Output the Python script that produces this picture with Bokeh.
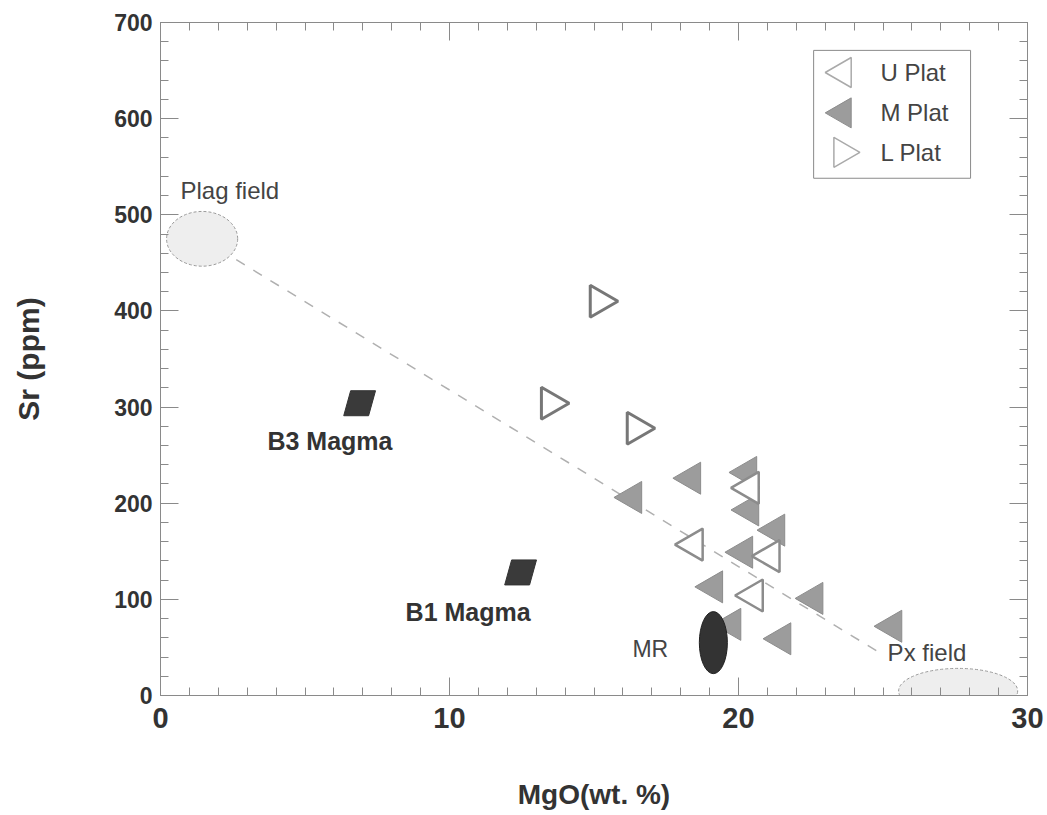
import numpy as np
from bokeh.plotting import figure
from bokeh.models import LinearAxis, SingleIntervalTicker, Range1d, ColumnDataSource
from bokeh.core.properties import value
from bokeh.embed import file_html
from bokeh.resources import INLINE

# ---- data ----
u_mgo = [18.44, 21.10, 20.52, 20.38]
u_sr = [157, 145, 104, 216]
m_mgo = [16.33, 18.37, 20.31, 20.38, 21.28, 20.17, 19.13, 22.60, 19.76, 21.49, 25.33]
m_sr = [206, 226, 232, 193, 172, 149, 113, 101, 74, 59, 72]
l_mgo = [15.19, 16.47, 13.50]
l_sr = [410, 278, 304]

magma_names = ["B3 Magma", "B1 Magma"]
magma_mgo = [6.89, 12.46]
magma_sr = [304, 128]
magma_label_mgo = [3.70, 8.48]
magma_label_sr = [265, 87]

field_names = ["Plag field", "Px field"]
field_mgo = [1.44, 27.6]
field_sr = [475, 4.7]
field_w = [2.46, 4.12]
field_h = [57, 47]
field_label_mgo = [0.69, 25.16]
field_label_sr = [525, 45]

mr_name = ["MR"]
mr_mgo = [19.13]
mr_sr = [55]
mr_w = [0.97]
mr_h = [64.5]
mr_label_mgo = [16.33]
mr_label_sr = [48]

tie_mgo = [1.44, 24.8]
tie_sr = [475, 46]

x_ticks_major = 10
y_ticks_major = 100

# legend layout (in data units of the plot)
legend_labels = ["U Plat", "M Plat", "L Plat"]
legend_box = dict(left=22.6, right=28.03, bottom=538, top=671)
legend_icon_x = 23.6
legend_text_x = 24.91
legend_row_y = [648, 606, 565]

FONT = "Liberation Sans"
GRAY = "#8a8a8a"
TXT = "#333333"

p = figure(width=1047, height=815, x_range=Range1d(0, 30), y_range=Range1d(0, 700),
           output_backend="svg", toolbar_location=None,
           min_border_left=160, min_border_right=20, min_border_top=22,
           min_border_bottom=120)
p.grid.visible = False
p.outline_line_color = GRAY
p.background_fill_color = "white"
p.border_fill_color = "white"

xb = p.below[0]
yl = p.left[0]
xb.ticker = SingleIntervalTicker(interval=x_ticks_major, num_minor_ticks=10)
yl.ticker = SingleIntervalTicker(interval=y_ticks_major, num_minor_ticks=5)


def style_ax(ax, labels=True):
    ax.axis_line_color = GRAY
    ax.major_tick_line_color = GRAY
    ax.minor_tick_line_color = GRAY
    ax.major_tick_in = 18
    ax.major_tick_out = 0
    ax.minor_tick_in = 8
    ax.minor_tick_out = 0
    ax.major_label_text_font = FONT
    ax.major_label_text_font_style = "bold"
    ax.major_label_text_color = TXT
    ax.axis_label_text_font = FONT
    ax.axis_label_text_font_style = "bold"
    ax.axis_label_text_color = TXT
    ax.axis_label_text_font_size = "28px"


style_ax(xb)
style_ax(yl)
xb.major_label_text_font_size = "29px"
xb.major_label_standoff = 12
xb.axis_label = "MgO(wt. %)"
xb.axis_label_standoff = 48
yl.major_label_text_font_size = "23px"
yl.major_label_standoff = 8
yl.axis_label = "Sr (ppm)"
yl.axis_label_text_font_size = "30px"
yl.axis_label_standoff = 66

top = LinearAxis(ticker=SingleIntervalTicker(interval=x_ticks_major, num_minor_ticks=10))
right = LinearAxis(ticker=SingleIntervalTicker(interval=y_ticks_major, num_minor_ticks=5))
style_ax(top)
style_ax(right)
top.major_label_overrides = {v: "" for v in range(0, 31, x_ticks_major)}
right.major_label_overrides = {v: "" for v in range(0, 701, y_ticks_major)}
top.major_label_standoff = 0
right.major_label_standoff = 0
p.add_layout(top, "above")
p.add_layout(right, "right")

# tie line
p.line(tie_mgo, tie_sr, line_color="#b0b0b0", line_width=1.5, line_dash="10 10")

# field ellipses
fsrc = ColumnDataSource(dict(x=field_mgo, y=field_sr, w=field_w, h=field_h))
p.ellipse(x="x", y="y", width="w", height="h", source=fsrc, fill_color="#eeeeee",
          line_color="#999999", line_dash="3 2", line_width=1)

# magma parallelograms
hw, hh, sl = 0.43, 13.0, 0.12
pxs = [[cx - hw + sl, cx + hw + sl, cx + hw - sl, cx - hw - sl] for cx in magma_mgo]
pys = [[cy + hh, cy + hh, cy - hh, cy - hh] for cy in magma_sr]
p.patches(pxs, pys, fill_color="#3a3a3a", line_color="#333333")

# data series
M_STYLE = dict(fill_color="#9c9c9c", line_color="#8c8c8c", line_width=1)
U_STYLE = dict(fill_color="white", line_color="#8c8c8c", line_width=2.5)
L_STYLE = dict(fill_color="white", line_color="#777777", line_width=3)
p.scatter(m_mgo, m_sr, marker="triangle", angle=np.pi / 2, size=32, **M_STYLE)
p.scatter(u_mgo, u_sr, marker="triangle", angle=np.pi / 2, size=32, **U_STYLE)
p.scatter(l_mgo, l_sr, marker="triangle", angle=-np.pi / 2, size=32, **L_STYLE)

# MR ellipse (drawn over the triangles as in the original)
p.ellipse(x=mr_mgo, y=mr_sr, width=mr_w, height=mr_h, fill_color="#333333",
          line_color="#222222")

# texts
p.text(x=field_label_mgo, y=field_label_sr, text=field_names, text_font=value(FONT),
       text_font_size="24px", text_color="#444444", text_baseline="middle",
       text_align="left")
p.text(x=mr_label_mgo, y=mr_label_sr, text=mr_name, text_font=value(FONT),
       text_font_size="23px", text_color="#444444", text_baseline="middle",
       text_align="left")
p.text(x=magma_label_mgo, y=magma_label_sr, text=magma_names, text_font=value(FONT),
       text_font_size="25px", text_font_style="bold", text_color=TXT,
       text_baseline="middle", text_align="left")

# legend
p.quad(left=[legend_box["left"]], right=[legend_box["right"]],
       bottom=[legend_box["bottom"]], top=[legend_box["top"]],
       fill_color="white", line_color=GRAY, line_width=1)
p.scatter([legend_icon_x], [legend_row_y[0]], marker="triangle", angle=np.pi / 2,
          size=30, fill_color="white", line_color="#aaaaaa", line_width=1.5)
p.scatter([legend_icon_x], [legend_row_y[1]], marker="triangle", angle=np.pi / 2,
          size=30, fill_color="#9c9c9c", line_color="#8c8c8c", line_width=1)
p.scatter([legend_icon_x], [legend_row_y[2]], marker="triangle", angle=-np.pi / 2,
          size=30, fill_color="white", line_color="#aaaaaa", line_width=1.5)
p.text(x=[legend_text_x] * 3, y=legend_row_y, text=legend_labels, text_font=value(FONT),
       text_font_size="24px", text_color="#444444", text_baseline="middle",
       text_align="left")

open("out.html", "w").write(file_html(p, INLINE))
